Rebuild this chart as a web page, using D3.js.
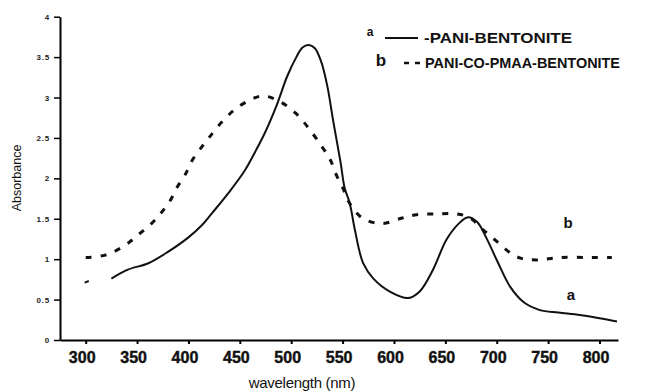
<!DOCTYPE html>
<html>
<head>
<meta charset="utf-8">
<script src="https://cdn.jsdelivr.net/npm/d3@7"></script>
<style>
  html, body { margin: 0; padding: 0; background: #fff; }
  svg { display: block; font-family: "Liberation Sans", Arial, sans-serif; }
</style>
</head>
<body>
<svg id="chart" width="653" height="392"></svg>
<script>
// ---- data ----
const xTicks = [300, 350, 400, 450, 500, 550, 600, 650, 700, 750, 800];
const yTicks = [0, 0.5, 1, 1.5, 2, 2.5, 3, 3.5, 4];

const waveA = [325,341,361,380,400,413,423,439,455,465,475,486,496,505,511,517,523,529,535,541,548,552,557,562,570,580,596,614,625,638,651,663,672,681,690,700,713,726,742,760,781,800,817];
const absA  = [0.76,0.87,0.95,1.09,1.27,1.42,1.57,1.82,2.10,2.33,2.58,2.91,3.26,3.50,3.62,3.65,3.61,3.45,3.15,2.70,2.20,1.88,1.69,1.36,0.95,0.76,0.60,0.52,0.60,0.87,1.24,1.44,1.52,1.46,1.26,0.99,0.66,0.47,0.37,0.34,0.31,0.27,0.23];

const waveA0 = [299, 303];
const absA0  = [0.71, 0.73];

const waveB = [300,319,337,351,364,372,382,389,397,404,413,421,432,445,460,473,489,504,517,530,538,544,551,556,569,588,608,622,642,661,674,687,700,715,724,739,762,793,812];
const absB  = [1.02,1.05,1.16,1.30,1.44,1.55,1.72,1.89,2.05,2.23,2.39,2.52,2.69,2.85,2.97,3.02,2.95,2.81,2.62,2.39,2.23,2.04,1.86,1.71,1.51,1.44,1.51,1.55,1.56,1.56,1.51,1.36,1.22,1.06,1.01,0.99,1.02,1.02,1.02];

const legendLabels = ["PANI-BENTONITE", "PANI-CO-PMAA-BENTONITE"];
const seriesKeys = ["a", "b"];

// ---- drawing ----
const svg = d3.select("#chart");
const x = d3.scaleLinear().domain([275, 818]).range([60, 618]);
const y = d3.scaleLinear().domain([0, 4]).range([340, 16.7]);

const zip = (xs, ys) => xs.map((v, i) => [v, ys[i]]);
const line = d3.line().x(d => x(d[0])).y(d => y(d[1])).curve(d3.curveCatmullRom.alpha(0.5));

// axes
const xAxis = d3.axisBottom(x).tickValues(xTicks).tickSize(4).tickSizeOuter(0).tickPadding(8);
const gx = svg.append("g").attr("transform", "translate(0,340)").call(xAxis);
gx.select(".domain").attr("stroke-width", 2);
gx.selectAll(".tick line").attr("stroke-width", 2);
gx.selectAll(".tick text").attr("font-size", 16).attr("font-weight", "bold").attr("dx", -4)
  .attr("fill", "#111").attr("stroke", "#111").attr("stroke-width", 0.4);

const yAxis = d3.axisLeft(y).tickValues(yTicks).tickSize(6).tickSizeOuter(0).tickPadding(4).tickFormat(d3.format("~g"));
const gy = svg.append("g").attr("transform", "translate(60,0)").call(yAxis);
gy.select(".domain").attr("stroke-width", 2);
gy.selectAll(".tick line").attr("stroke-width", 1.5);
gy.selectAll(".tick text").attr("font-size", 8).attr("font-weight", "bold").attr("letter-spacing", 0.8).attr("fill", "#222");

// axis titles
svg.append("text").attr("x", 302).attr("y", 388).attr("text-anchor", "middle")
  .attr("font-size", 15).attr("fill", "#111").attr("letter-spacing", -0.3).text("wavelength (nm)");
svg.append("text").attr("transform", "translate(21,178) rotate(-90)").attr("text-anchor", "middle")
  .attr("font-size", 12.5).attr("fill", "#111").text("Absorbance");

// curves
svg.append("path").datum(zip(waveA0, absA0)).attr("d", line)
  .attr("fill", "none").attr("stroke", "#111").attr("stroke-width", 2);
svg.append("path").datum(zip(waveA, absA)).attr("d", line)
  .attr("fill", "none").attr("stroke", "#111").attr("stroke-width", 2);
svg.append("path").datum(zip(waveB, absB)).attr("d", line)
  .attr("fill", "none").attr("stroke", "#111").attr("stroke-width", 3)
  .attr("stroke-dasharray", "6,9");

// in-chart labels
svg.append("text").attr("x", 568).attr("y", 228).attr("text-anchor", "middle")
  .attr("font-size", 15).attr("font-weight", "bold").attr("fill", "#111").text(seriesKeys[1]);
svg.append("text").attr("x", 571).attr("y", 300).attr("text-anchor", "middle")
  .attr("font-size", 15).attr("font-weight", "bold").attr("fill", "#111").text(seriesKeys[0]);

// legend
const lg = svg.append("g");
lg.append("text").attr("x", 370).attr("y", 36).attr("text-anchor", "middle")
  .attr("font-size", 12).attr("font-weight", "bold").attr("fill", "#111").text(seriesKeys[0]);
lg.append("line").attr("x1", 385).attr("x2", 418).attr("y1", 38).attr("y2", 38)
  .attr("stroke", "#111").attr("stroke-width", 1.8);
lg.append("text").attr("x", 424).attr("y", 43).attr("font-size", 15).attr("font-weight", "bold")
  .attr("fill", "#111").attr("textLength", 148).attr("lengthAdjust", "spacingAndGlyphs").text("-" + legendLabels[0]);

lg.append("text").attr("x", 381).attr("y", 66).attr("text-anchor", "middle")
  .attr("font-size", 17).attr("font-weight", "bold").attr("fill", "#111").text(seriesKeys[1]);
lg.append("line").attr("x1", 404).attr("x2", 420).attr("y1", 63).attr("y2", 63)
  .attr("stroke", "#111").attr("stroke-width", 2.5).attr("stroke-dasharray", "5,6");
lg.append("text").attr("x", 425).attr("y", 68).attr("font-size", 15).attr("font-weight", "bold")
  .attr("fill", "#111").attr("textLength", 195).attr("lengthAdjust", "spacingAndGlyphs").text(legendLabels[1]);
</script>
</body>
</html>
